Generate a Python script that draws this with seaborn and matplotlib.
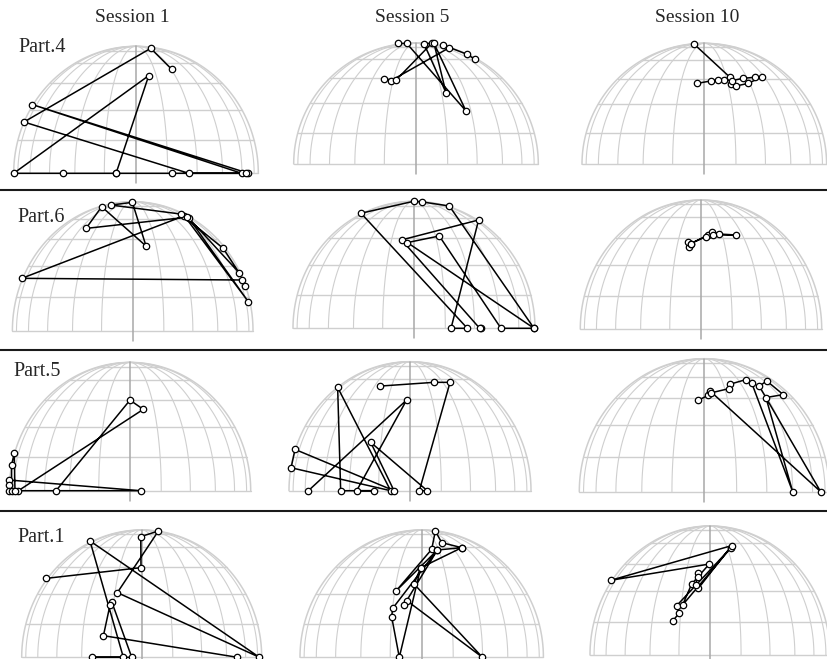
import numpy as np
import pandas as pd
import matplotlib
matplotlib.use("Agg")
import matplotlib.pyplot as plt
from matplotlib.lines import Line2D
import seaborn as sns

sns.set_style("white")
plt.rcParams["font.family"] = ["Liberation Serif", "DejaVu Serif"]

sessions = ["Session 1", "Session 5", "Session 10"]
participants = ["Part.4", "Part.6", "Part.5", "Part.1"]

# Projected positions on the unit dome (x: -1..1 across, y: 0 at rim .. 1 at pole)
part4_s1_x = [0.292, 0.120, -0.916, 0.431, 0.864, -0.847, 0.918, 0.896, 0.294, -0.163, 0.104, -1.0, -0.594, -0.163]
part4_s1_y = [0.819, 0.984, 0.404, 0.0, 0.0, 0.541, 0.0, 0.0, 0.0, 0.0, 0.769, 0.0, 0.0, 0.0]
part4_s5_x = [0.482, 0.420, 0.223, 0.272, -0.204, -0.262, -0.163, 0.128, 0.065, 0.245, 0.147, 0.409, -0.076, -0.144]
part4_s5_y = [0.865, 0.906, 0.983, 0.961, 0.689, 0.700, 0.694, 0.997, 0.995, 0.590, 0.997, 0.438, 0.997, 0.997]
part4_s10_x = [-0.082, 0.210, 0.215, 0.259, 0.360, 0.474, 0.414, 0.319, 0.223, 0.161, 0.109, 0.054, -0.057]
part4_s10_y = [0.992, 0.719, 0.664, 0.647, 0.669, 0.725, 0.719, 0.711, 0.691, 0.697, 0.697, 0.689, 0.669]

part6_s1_x = [0.934, 0.911, -0.922, 0.429, 0.961, 0.468, 0.884, 0.753, 0.402, -0.180, -0.003, 0.111, -0.258, -0.388, 0.455]
part6_s1_y = [0.349, 0.393, 0.406, 0.891, 0.225, 0.871, 0.450, 0.638, 0.904, 0.974, 0.995, 0.656, 0.961, 0.793, 0.880]
part6_s5_x = [0.556, 0.543, -0.102, 0.534, 0.306, 0.441, -0.438, -0.003, 0.069, 0.292, 0.992, -0.055, 0.209, 0.719, 0.992]
part6_s5_y = [0.0, 0.0, 0.696, 0.853, 0.0, 0.0, 0.906, 1.0, 0.995, 0.963, 0.0, 0.675, 0.727, 0.0, 0.0]
part6_s10_x = [-0.097, -0.105, -0.086, 0.061, 0.094, 0.152, 0.290, 0.102, 0.041, -0.086]
part6_s10_y = [0.638, 0.677, 0.662, 0.729, 0.755, 0.736, 0.729, 0.729, 0.716, 0.662]

part5_s1_x = [-0.613, 0.0, 0.110, -0.925, 0.088, -1.0, -1.0, -1.0, -0.981, -0.981, -0.959, -0.953]
part5_s1_y = [0.0, 0.706, 0.634, 0.0, 0.0, 0.083, 0.044, 0.0, 0.0, 0.200, 0.291, 0.0]
part5_s5_x = [-0.840, -0.028, -0.441, -0.295, -0.573, -0.598, -0.160, -0.983, -0.950, -0.132, -0.325, 0.143, 0.077, 0.331, 0.198, -0.248]
part5_s5_y = [0.0, 0.703, 0.0, 0.0, 0.0, 0.801, 0.0, 0.178, 0.320, 0.0, 0.375, 0.0, 0.0, 0.840, 0.840, 0.811]
part5_s10_x = [-0.048, 0.032, 0.045, 0.931, 0.440, 0.499, 0.632, 0.493, 0.707, 0.379, 0.333, 0.205, 0.197, 0.053]
part5_s10_y = [0.688, 0.725, 0.758, 0.0, 0.793, 0.833, 0.730, 0.708, 0.0, 0.818, 0.843, 0.808, 0.775, 0.743]

part1_s1_x = [-0.797, -0.006, -0.008, 0.139, -0.203, 0.981, -0.431, -0.153, -0.417, -0.083, -0.250, -0.264, -0.319, 0.797]
part1_s1_y = [0.620, 0.704, 0.948, 0.992, 0.508, 0.0, 0.914, 0.0, 0.0, 0.0, 0.437, 0.411, 0.170, 0.0]
part1_s5_x = [0.329, 0.164, 0.112, 0.082, -0.211, 0.129, -0.238, -0.247, -0.184, -0.008, -0.063, 0.499, -0.118, -0.145, 0.129, 0.329, -0.008]
part1_s5_y = [0.861, 0.901, 0.992, 0.848, 0.521, 0.843, 0.385, 0.319, 0.0, 0.704, 0.576, 0.0, 0.442, 0.411, 0.843, 0.861, 0.704]
part1_s10_x = [-0.311, -0.258, -0.278, 0.175, -0.228, -0.153, -0.006, -0.828, 0.181, -0.097, -0.117, -0.103, -0.097]
part1_s10_y = [0.264, 0.323, 0.382, 0.832, 0.388, 0.550, 0.705, 0.579, 0.848, 0.517, 0.543, 0.633, 0.607]

tracks = [
    [(part4_s1_x, part4_s1_y), (part4_s5_x, part4_s5_y), (part4_s10_x, part4_s10_y)],
    [(part6_s1_x, part6_s1_y), (part6_s5_x, part6_s5_y), (part6_s10_x, part6_s10_y)],
    [(part5_s1_x, part5_s1_y), (part5_s5_x, part5_s5_y), (part5_s10_x, part5_s10_y)],
    [(part1_s1_x, part1_s1_y), (part1_s5_x, part1_s5_y), (part1_s10_x, part1_s10_y)],
]

W, H = 827, 659
fig = plt.figure(figsize=(W / 100, H / 100), dpi=100)

# Panel geometry in pixels: centre x, rim y, half-width, dome height
layout = [
    [(136.0, 173.3, 122.3, 127.0), (416.0, 164.0, 122.3, 121.0), (704.3, 164.3, 122.3, 121.0)],
    [(132.7, 330.7, 120.3, 129.0), (414.0, 328.3, 121.0, 127.0), (701.0, 329.0, 120.7, 129.0)],
    [(130.0, 490.7, 120.7, 128.3), (410.0, 490.7, 121.0, 129.0), (704.3, 491.7, 125.0, 133.0)],
    [(141.7, 657.3, 120.0, 127.3), (421.7, 657.3, 121.7, 127.3), (710.0, 655.0, 120.0, 129.0)],
]

XPAD, YLO, YHI = 1.15, -0.12, 1.10
GRID = "#cfcfcf"
AXIS = "#a8a8a8"


def dome_axes(cx, by, rx, ry):
    left = (cx - XPAD * rx) / W
    width = 2 * XPAD * rx / W
    bottom = (H - (by - YLO * ry)) / H
    height = (YHI - YLO) * ry / H
    ax = fig.add_axes([left, bottom, width, height])
    ax.set_xlim(-XPAD, XPAD)
    ax.set_ylim(YLO, YHI)
    ax.set_axis_off()
    return ax


def draw_grid(ax):
    lat = np.radians(np.linspace(0, 90, 121))
    for lon in range(-90, 91, 15):
        if lon == 0:
            continue
        xs = np.sin(np.radians(lon)) * np.cos(lat)
        ys = np.sin(lat)
        lw = 1.1 if abs(lon) == 90 else 0.8
        ax.plot(xs, ys, color=GRID, lw=lw, zorder=1, clip_on=False)
    for la in range(0, 90, 15):
        c, s = np.cos(np.radians(la)), np.sin(np.radians(la))
        ax.plot([-c, c], [s, s], color=GRID, lw=1.0, zorder=1, clip_on=False)
    ax.plot([0, 0], [-0.08, 1.0], color=AXIS, lw=1.1, zorder=2, clip_on=False)


for r, row in enumerate(layout):
    for c, (cx, by, rx, ry) in enumerate(row):
        ax = dome_axes(cx, by, rx, ry)
        draw_grid(ax)
        xs, ys = tracks[r][c]
        df = pd.DataFrame({"x": xs, "y": ys})
        sns.lineplot(data=df, x="x", y="y", sort=False, estimator=None, ax=ax,
                     color="black", lw=1.1, marker="o", markersize=4.6,
                     markerfacecolor="white", markeredgecolor="black",
                     markeredgewidth=0.9, zorder=5, clip_on=False)
        ax.set_axis_off()

# Column titles
title_x = [132, 412, 697]
for tx, name in zip(title_x, sessions):
    fig.text(tx / W, 1 - 17 / H, name, ha="center", va="center", fontsize=14)

# Row labels
label_pos = [(18, 47), (17, 217), (13, 372), (17, 538)]
for (lx, ly), name in zip(label_pos, participants):
    fig.text(lx / W, 1 - ly / H, name, ha="left", va="center", fontsize=14.5)

# Row separators
for sy in [189.5, 350.0, 511.0]:
    fig.add_artist(Line2D([0, 1], [1 - sy / H, 1 - sy / H], transform=fig.transFigure,
                          color="#1a1a1a", lw=1.5))

fig.savefig("out.png", dpi=100)
